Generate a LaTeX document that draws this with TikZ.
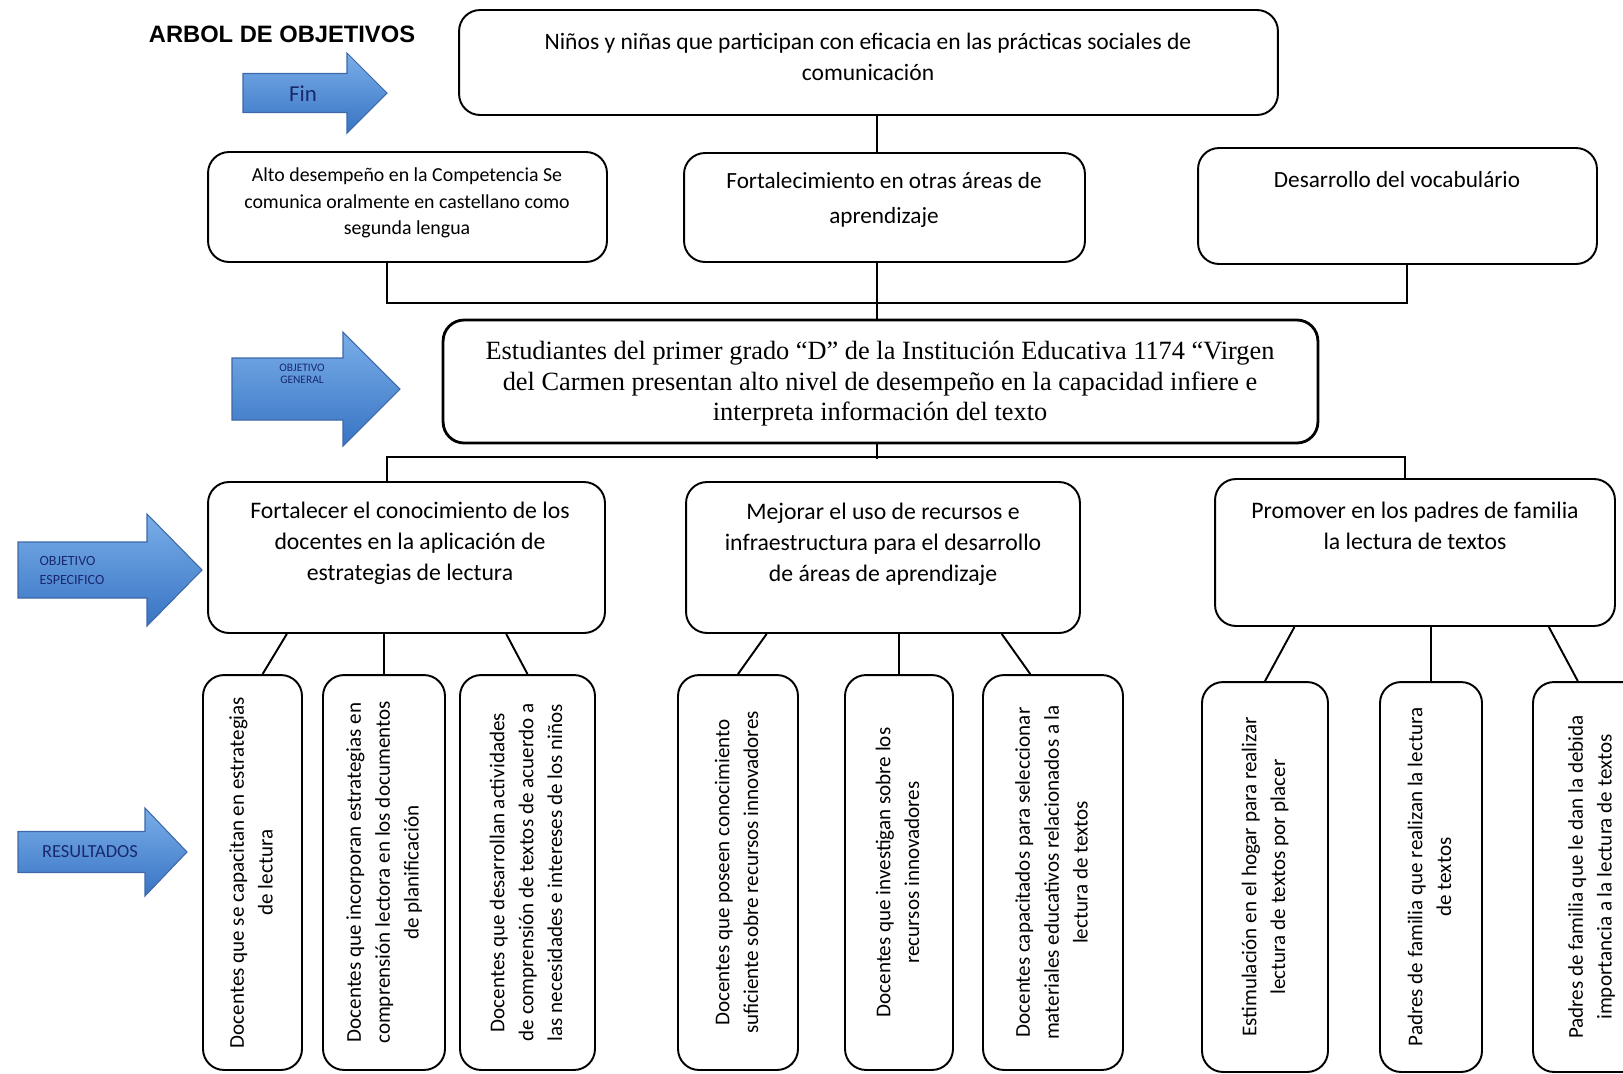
\documentclass[tikz,border=0pt]{standalone}
\usepackage{fontspec}
\usepackage{graphicx}
\setmainfont{Carlito}
\newfontfamily\titlefont{Liberation Sans}
\newfontfamily\timesfont{Liberation Serif}
\usetikzlibrary{calc}

\definecolor{arrowlight}{RGB}{122,174,232}
\definecolor{arrowdark}{RGB}{56,116,196}
\definecolor{arrowline}{RGB}{62,104,168}
\definecolor{labelblue}{RGB}{26,40,110}

% blue block arrow: x start, x head, x tip, y middle, half shaft, half head
\newcommand{\blockarrow}[6]{%
  \draw[bluearrow] (#1,{#4-#5}) -- (#2,{#4-#5}) -- (#2,{#4-#6}) -- (#3,#4)
    -- (#2,{#4+#6}) -- (#2,{#4+#5}) -- (#1,{#4+#5}) -- cycle;}
% text standing upright in the result boxes
\newcommand{\vlines}[1]{\rotatebox{90}{\begin{tabular}{@{}c@{}}#1\end{tabular}}}

\tikzset{
  box/.style={draw, line width=1.1pt, rounded corners=0.42cm},
  link/.style={line width=1.1pt},
  bluearrow/.style={top color=arrowlight, bottom color=arrowdark, draw=arrowline, line width=0.6pt},
  arrowlabel/.style={text=labelblue, align=center},
  restext/.style={font=\fontsize{12}{16.4}\selectfont},
}

\begin{document}
\begin{tikzpicture}[x=0.02cm, y=-0.02cm]
  \useasboundingbox (0,0) rectangle (1623,1073);
  \coordinate (trunk) at (877,0);

  % Title
  \node[font=\titlefont\bfseries\fontsize{13.5}{16}\selectfont] (title) at (282,34) {ARBOL DE OBJETIVOS};

  % Side arrows
  \blockarrow{243}{347}{387}{93}{19.5}{40}
  \node[arrowlabel, font=\fontsize{13}{15}\selectfont] (finlab) at (303,94) {Fin};
  \blockarrow{232}{343}{400}{389}{31}{57}
  \node[arrowlabel, font=\fontsize{6.5}{7}\selectfont] (genlab) at (302,374) {OBJETIVO\\GENERAL};
  \blockarrow{18}{147}{202}{570}{28}{56}
  \node[arrowlabel, align=left, font=\fontsize{8}{10.8}\selectfont] (esplab) at (72,570) {OBJETIVO\\ESPECIFICO};
  \blockarrow{18}{145}{187}{852}{20.5}{44}
  \node[arrowlabel, font=\fontsize{10.5}{12}\selectfont] (reslab) at (90,852) {RESULTADOS};

  % Fin
  \node[box, minimum width=16.38cm, minimum height=2.1cm] (fin) at (868.5,62.5) {};
  \node[align=center, font=\fontsize{13.4}{17.6}\selectfont] (fintxt) at (868,57)
    {Niños y niñas que participan con eficacia en las prácticas sociales de\\comunicación};

  % Effects
  \node[box, minimum width=7.98cm, minimum height=2.2cm] (efA) at (407.5,207) {};
  \node[align=center, font=\fontsize{11.3}{15}\selectfont] (efAtxt) at (407,203)
    {Alto desempeño en la Competencia Se\\comunica oralmente en castellano como\\segunda lengua};
  \node[box, minimum width=8.02cm, minimum height=2.18cm] (efB) at (884.5,207.5) {};
  \node[align=center, font=\fontsize{13.2}{19.8}\selectfont] (efBtxt) at (884,200)
    {Fortalecimiento en otras áreas de\\aprendizaje};
  \node[box, minimum width=7.98cm, minimum height=2.32cm] (efC) at (1397.5,206) {};
  \node[align=center, font=\fontsize{13.2}{19.8}\selectfont] (efCtxt) at (1397,180)
    {Desarrollo del vocabulário};

  % General objective
  \node[box, line width=1.6pt, minimum width=17.5cm, minimum height=2.46cm] (gen) at (880.5,381.5) {};
  \node[align=center, font=\timesfont\fontsize{15}{17.3}\selectfont] (gentxt) at (880,384)
    {Estudiantes del primer grado “D” de la Institución Educativa 1174 “Virgen\\
     del Carmen presentan alto nivel de desempeño en la capacidad infiere e\\
     interpreta información del texto};

  % Specific objectives
  \node[box, minimum width=7.94cm, minimum height=3.02cm] (espA) at (406.5,557.5) {};
  \node[align=center, font=\fontsize{13.5}{17.6}\selectfont] (espAtxt) at (410,543)
    {Fortalecer el conocimiento de los\\docentes en la aplicación de\\estrategias de lectura};
  \node[box, minimum width=7.88cm, minimum height=3.02cm] (espB) at (883,557.5) {};
  \node[align=center, font=\fontsize{13.5}{17.6}\selectfont] (espBtxt) at (883,544)
    {Mejorar el uso de recursos e\\infraestructura para el desarrollo\\de áreas de aprendizaje};
  \node[box, minimum width=8cm, minimum height=2.94cm] (espC) at (1415,552.5) {};
  \node[align=center, font=\fontsize{13.5}{17.6}\selectfont] (espCtxt) at (1415,526)
    {Promover en los padres de familia\\la lectura de textos};

  % Results
  \node[box, restext, minimum width=1.98cm, minimum height=7.9cm] (r1) at (252.5,872.5)
    {\vlines{Docentes que se capacitan en estrategias\\de lectura}};
  \node[box, restext, minimum width=2.44cm, minimum height=7.9cm] (r2) at (384,872.5)
    {\vlines{Docentes que incorporan estrategias en\\comprensión lectora en los documentos\\de planificación}};
  \node[box, restext, minimum width=2.7cm, minimum height=7.9cm] (r3) at (527.5,872.5)
    {\vlines{Docentes que desarrollan actividades\\de comprensión de textos de acuerdo a\\las necesidades e intereses de los niños}};
  \node[box, restext, minimum width=2.4cm, minimum height=7.9cm] (r4) at (738,872.5)
    {\vlines{Docentes que poseen conocimiento\\suficiente sobre recursos innovadores}};
  \node[box, restext, minimum width=2.16cm, minimum height=7.9cm] (r5) at (899,872.5)
    {\vlines{Docentes que investigan sobre los\\recursos innovadores}};
  \node[box, restext, minimum width=2.8cm, minimum height=7.9cm] (r6) at (1053,872.5)
    {\vlines{Docentes capacitados para seleccionar\\materiales educativos relacionados a la\\lectura de textos}};
  \node[box, restext, minimum width=2.52cm, minimum height=7.8cm] (r7) at (1265,877)
    {\vlines{Estimulación en el hogar para realizar\\lectura de textos por placer}};
  \node[box, restext, minimum width=2.04cm, minimum height=7.8cm] (r8) at (1431,877)
    {\vlines{Padres de familia que realizan la lectura\\de textos}};
  \node[box, restext, minimum width=2.34cm, minimum height=7.8cm] (r9) at (1591.5,877)
    {\vlines{Padres de familia que le dan la debida\\importancia a la lectura de textos}};

  % Connectors, upper part
  \draw[link] (trunk |- fin.south) -- (trunk |- efB.north);
  \draw[link] ($(efA.south west)!0.45!(efA.south east)$) -- ++(0,40)
    -| ($(efC.south west)!0.524!(efC.south east)$);
  \draw[link] (trunk |- efB.south) -- (trunk |- gen.north);
  \draw[link] (trunk |- gen.south) -- ++(0,15);
  \draw[link] ($(espA.north west)!0.45!(espA.north east)$) -- ++(0,-24)
    -| ($(espC.north west)!0.475!(espC.north east)$);

  % Connectors, results
  \draw[link] ($(espA.south west)!0.2!(espA.south east)$) -- ($(r1.north west)!0.6!(r1.north east)$);
  \draw[link] (r2.north |- espA.south) -- (r2.north);
  \draw[link] ($(espA.south west)!0.75!(espA.south east)$) -- (r3.north);
  \draw[link] ($(espB.south west)!0.206!(espB.south east)$) -- (r4.north);
  \draw[link] (r5.north |- espB.south) -- (r5.north);
  \draw[link] ($(espB.south west)!0.8!(espB.south east)$) -- ($(r6.north west)!0.34!(r6.north east)$);
  \draw[link] ($(espC.south west)!0.2!(espC.south east)$) -- (r7.north);
  \draw[link] (r8.north |- espC.south) -- (r8.north);
  \draw[link] ($(espC.south west)!0.833!(espC.south east)$) -- ($(r9.north west)!0.385!(r9.north east)$);
\end{tikzpicture}
\end{document}
